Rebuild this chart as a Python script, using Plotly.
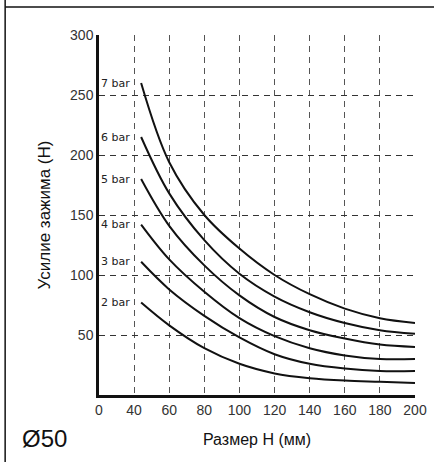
import plotly.graph_objects as go

# Data
size_h = [44, 60, 80, 100, 120, 140, 160, 180, 200]
pressure_labels = ["7 bar", "6 bar", "5 bar", "4 bar", "3 bar", "2 bar"]
force_7bar = [260, 194, 150, 122, 100, 84, 72, 64, 60]
force_6bar = [215, 168, 129, 101, 82, 69, 60, 54, 51]
force_5bar = [180, 141, 108, 83, 65, 54, 47, 42, 40]
force_4bar = [142, 113, 86, 64, 49, 39, 33, 30, 30]
force_3bar = [111, 88, 66, 48, 34, 26, 22, 20, 20]
force_2bar = [77, 58, 39, 26, 18, 14, 12, 11, 10]
series = [force_7bar, force_6bar, force_5bar, force_4bar, force_3bar, force_2bar]

x_tick_vals = [20, 40, 60, 80, 100, 120, 140, 160, 180, 200]
x_tick_text = ["0", "40", "60", "80", "100", "120", "140", "160", "180", "200"]
y_tick_vals = [50, 100, 150, 200, 250, 300]

fig = go.Figure()
for name, ys in zip(pressure_labels, series):
    fig.add_trace(go.Scatter(
        x=size_h, y=ys, mode="lines", name=name,
        line=dict(color="#111111", width=2, shape="spline", smoothing=1.0),
        hoverinfo="x+y",
    ))
    fig.add_annotation(
        x=20.2, y=ys[0], xref="x", yref="y", text=name, showarrow=False,
        xanchor="left", yanchor="middle",
        font=dict(family="DejaVu Sans", size=11, color="#222222"),
    )

fig.update_layout(
    width=434, height=462,
    margin=dict(l=99, r=19, t=35, b=67, autoexpand=False),
    paper_bgcolor="white", plot_bgcolor="white",
    showlegend=False,
    font=dict(family="Liberation Sans", color="#222222"),
    xaxis=dict(
        range=[20, 200], tickvals=x_tick_vals, ticktext=x_tick_text,
        showgrid=True, gridcolor="#555555", gridwidth=1, griddash="6px,5px",
        showline=True, linecolor="#111111", linewidth=2.5,
        zeroline=False, ticks="", tickfont=dict(size=14, color="#333333"),
        automargin=False,
        title=dict(text="Размер H (мм)", font=dict(size=16, color="#111111"), standoff=18),
    ),
    yaxis=dict(
        range=[0, 300], tickvals=y_tick_vals,
        showgrid=True, gridcolor="#333333", gridwidth=1, griddash="6px,5px",
        showline=True, linecolor="#111111", linewidth=2.5,
        zeroline=False, ticks="", tickfont=dict(size=14, color="#333333"),
        automargin=False,
        title=dict(text="Усилие зажима (H)", font=dict(size=17, color="#111111"), standoff=16),
    ),
)

# Frame lines of the drawing sheet
fig.add_shape(type="line", xref="paper", yref="paper",
              x0=-0.297, x1=1.07, y0=1.078, y1=1.078,
              line=dict(color="#111111", width=1.5))
fig.add_shape(type="line", xref="paper", yref="paper",
              x0=-0.297, x1=-0.297, y0=-0.19, y1=1.1,
              line=dict(color="#111111", width=1.5))

fig.add_annotation(
    text="Ø50", xref="paper", yref="paper", x=-0.25, y=-0.12,
    xanchor="left", yanchor="middle", showarrow=False,
    font=dict(family="Liberation Sans", size=24, color="#111111"),
)

fig.write_html("out.html", config={"displayModeBar": False},
               post_script="document.body.style.margin='0px';")
